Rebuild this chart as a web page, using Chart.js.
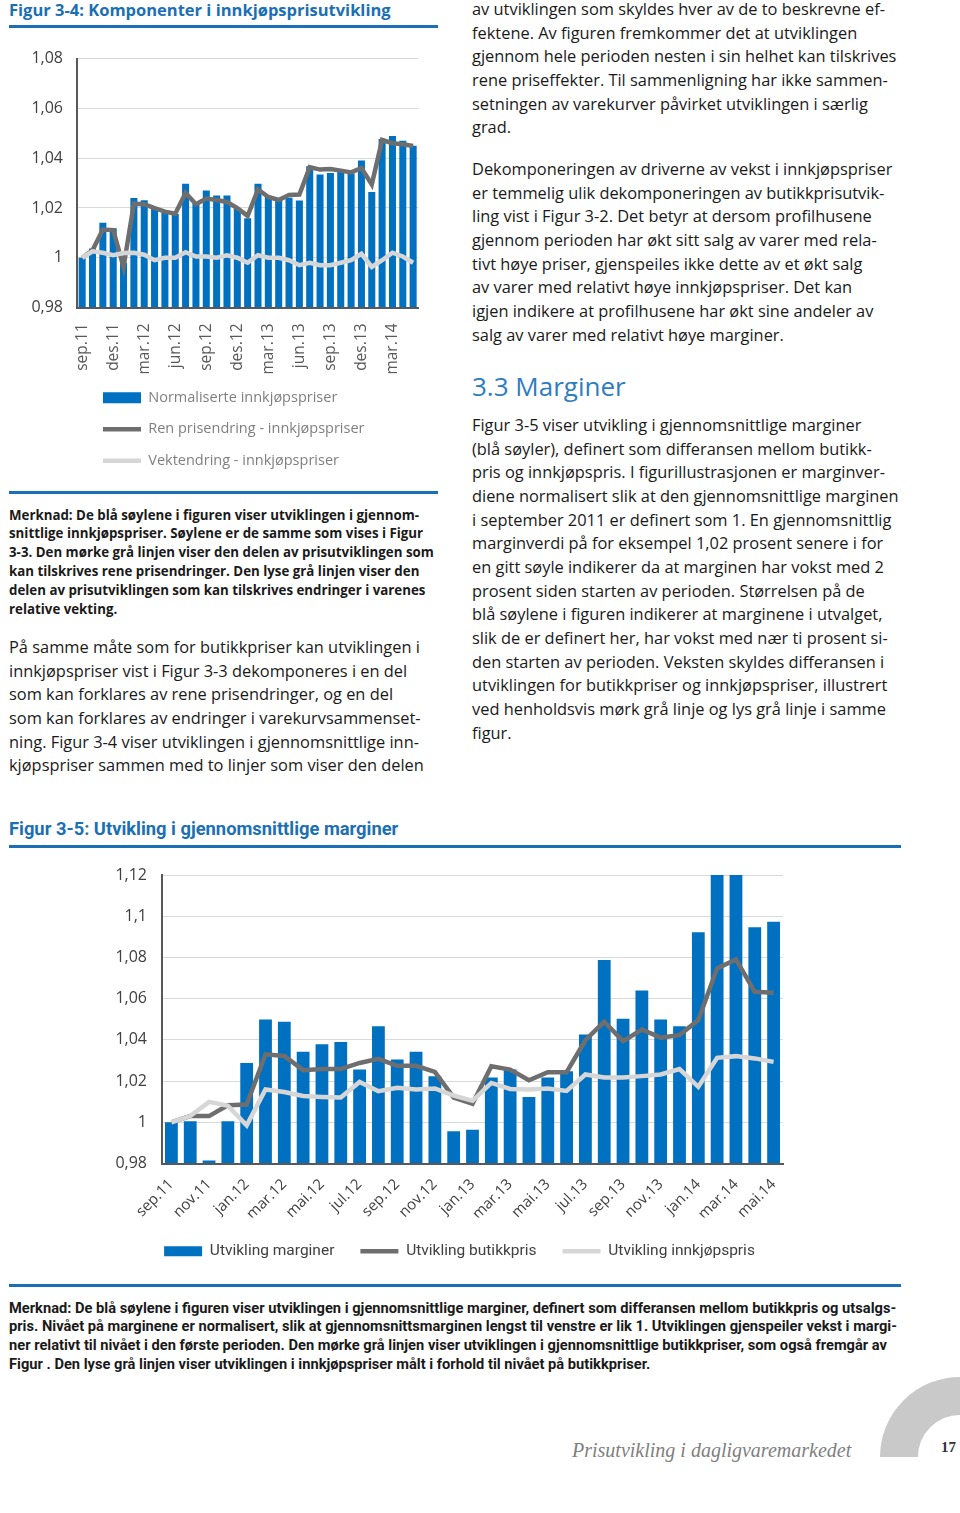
<!DOCTYPE html>
<html lang="no">
<head>
<meta charset="UTF-8">
<title>Prisutvikling i dagligvaremarkedet - side 17</title>
<script src="https://cdn.jsdelivr.net/npm/chart.js"></script>
<style>
  html, body { margin: 0; padding: 0; background: #fff; }
  #side { position: relative; width: 960px; height: 1513px; overflow: hidden; font-family: 'Open Sans', 'Lato', sans-serif; color: #1a1a1a; }
  .tittel { position: absolute; font-weight: bold; color: #1b6fb5; white-space: nowrap; }
  .smal { font-family: Roboto, 'Liberation Sans', sans-serif; transform-origin: 0 0; }
  .strek { position: absolute; height: 3px; background: #1b6fb5; }
  .tekst { position: absolute; font-size: 16.4px; }
  .tekst div { height: 23.65px; line-height: 23.65px; white-space: nowrap; }
  .merknad { position: absolute; font-weight: bold; font-size: 13.3px; }
  .merknad div { height: 18.8px; line-height: 18.8px; white-space: nowrap; }
  .figur { position: absolute; }
  #overskrift { position: absolute; left: 472px; top: 371px; font-size: 26px; line-height: 30px; color: #2d7dc2; }
  #bunntekst { position: absolute; left: 572px; top: 1439px; font-family: 'Liberation Serif', serif; font-style: italic; font-size: 20px; color: #808080; white-space: nowrap; }
  #sidetall { position: absolute; left: 941px; top: 1439px; font-family: 'Liberation Serif', serif; font-weight: bold; font-size: 15px; color: #333; }
  #bue { position: absolute; left: 880px; top: 1377px; width: 80px; height: 80px; overflow: hidden; }
  #bue div { width: 160px; height: 160px; border-radius: 50%; border: 38px solid #c9c9c9; box-sizing: border-box; }
</style>
</head>
<body>
<div id="side">

  <!-- venstre spalte -->
  <div class="tittel" style="left:9px; top:0; font-size:16.5px; line-height:20px;">Figur 3-4: Komponenter i innkjøpsprisutvikling</div>
  <div class="strek" style="left:9px; top:25px; width:429px;"></div>
  <div class="figur" style="left:20px; top:35px; width:420px; height:443px;"><canvas id="figur34"></canvas></div>
  <div class="strek" style="left:9px; top:491px; width:429px;"></div>

  <div class="merknad" style="left:9px; top:505.6px;">
    <div>Merknad: De blå søylene i figuren viser utviklingen i gjennom-</div>
    <div>snittlige innkjøpspriser. Søylene er de samme som vises i Figur</div>
    <div>3-3. Den mørke grå linjen viser den delen av prisutviklingen som</div>
    <div>kan tilskrives rene prisendringer. Den lyse grå linjen viser den</div>
    <div>delen av prisutviklingen som kan tilskrives endringer i varenes</div>
    <div>relative vekting.</div>
  </div>

  <div class="tekst" style="left:9px; top:635.2px;">
    <div>På samme måte som for butikkpriser kan utviklingen i</div>
    <div>innkjøpspriser vist i Figur 3-3 dekomponeres i en del</div>
    <div>som kan forklares av rene prisendringer, og en del</div>
    <div>som kan forklares av endringer i varekurvsammenset-</div>
    <div>ning. Figur 3-4 viser utviklingen i gjennomsnittlige inn-</div>
    <div>kjøpspriser sammen med to linjer som viser den delen</div>
  </div>

  <!-- høyre spalte -->
  <div class="tekst" style="left:472px; top:-2.8px;">
    <div>av utviklingen som skyldes hver av de to beskrevne ef-</div>
    <div>fektene. Av figuren fremkommer det at utviklingen</div>
    <div>gjennom hele perioden nesten i sin helhet kan tilskrives</div>
    <div>rene priseffekter. Til sammenligning har ikke sammen-</div>
    <div>setningen av varekurver påvirket utviklingen i særlig</div>
    <div>grad.</div>
  </div>

  <div class="tekst" style="left:472px; top:157.2px;">
    <div>Dekomponeringen av driverne av vekst i innkjøpspriser</div>
    <div>er temmelig ulik dekomponeringen av butikkprisutvik-</div>
    <div>ling vist i Figur 3-2. Det betyr at dersom profilhusene</div>
    <div>gjennom perioden har økt sitt salg av varer med rela-</div>
    <div>tivt høye priser, gjenspeiles ikke dette av et økt salg</div>
    <div>av varer med relativt høye innkjøpspriser. Det kan</div>
    <div>igjen indikere at profilhusene har økt sine andeler av</div>
    <div>salg av varer med relativt høye marginer.</div>
  </div>

  <div id="overskrift">3.3 Marginer</div>

  <div class="tekst" style="left:472px; top:413.2px;">
    <div>Figur 3-5 viser utvikling i gjennomsnittlige marginer</div>
    <div>(blå søyler), definert som differansen mellom butikk-</div>
    <div>pris og innkjøpspris. I figurillustrasjonen er marginver-</div>
    <div>diene normalisert slik at den gjennomsnittlige marginen</div>
    <div>i september 2011 er definert som 1. En gjennomsnittlig</div>
    <div>marginverdi på for eksempel 1,02 prosent senere i for</div>
    <div>en gitt søyle indikerer da at marginen har vokst med 2</div>
    <div>prosent siden starten av perioden. Størrelsen på de</div>
    <div>blå søylene i figuren indikerer at marginene i utvalget,</div>
    <div>slik de er definert her, har vokst med nær ti prosent si-</div>
    <div>den starten av perioden. Veksten skyldes differansen i</div>
    <div>utviklingen for butikkpriser og innkjøpspriser, illustrert</div>
    <div>ved henholdsvis mørk grå linje og lys grå linje i samme</div>
    <div>figur.</div>
  </div>

  <!-- figur 3-5 over hele bredden -->
  <div class="tittel smal" data-bredde="389" style="left:9px; top:818px; font-size:18px; line-height:22px;">Figur 3-5: Utvikling i gjennomsnittlige marginer</div>
  <div class="strek" style="left:9px; top:845px; width:892px;"></div>
  <div class="figur" style="left:100px; top:850px; width:748px; height:419px;"><canvas id="figur35"></canvas></div>
  <div class="strek" style="left:9px; top:1284px; width:892px;"></div>

  <div class="merknad smal" data-bredde="888" style="left:9px; top:1298.7px; font-size:14px;">
    <div>Merknad: De blå søylene i figuren viser utviklingen i gjennomsnittlige marginer, definert som differansen mellom butikkpris og utsalgs-</div>
    <div>pris. Nivået på marginene er normalisert, slik at gjennomsnittsmarginen lengst til venstre er lik 1. Utviklingen gjenspeiler vekst i margi-</div>
    <div>ner relativt til nivået i den første perioden. Den mørke grå linjen viser utviklingen i gjennomsnittlige butikkpriser, som også fremgår av</div>
    <div>Figur . Den lyse grå linjen viser utviklingen i innkjøpspriser målt i forhold til nivået på butikkpriser.</div>
  </div>

  <div id="bue"><div></div></div>
  <div id="bunntekst">Prisutvikling i dagligvaremarkedet</div>
  <div id="sidetall">17</div>
</div>

<script>
  // måneder sep.11 - mai.14
  const maaneder = ['sep.11', 'okt.11', 'nov.11', 'des.11',
    'jan.12', 'feb.12', 'mar.12', 'apr.12', 'mai.12', 'jun.12', 'jul.12', 'aug.12', 'sep.12', 'okt.12', 'nov.12', 'des.12',
    'jan.13', 'feb.13', 'mar.13', 'apr.13', 'mai.13', 'jun.13', 'jul.13', 'aug.13', 'sep.13', 'okt.13', 'nov.13', 'des.13',
    'jan.14', 'feb.14', 'mar.14', 'apr.14', 'mai.14'];

  // Figur 3-4
  const normaliserteInnkjop = [1.000, 1.0037, 1.0141, 1.0118, 0.998, 1.0240, 1.0231, 1.0199, 1.0182, 1.0176, 1.0297,
    1.0218, 1.027, 1.025, 1.025, 1.020, 1.0159, 1.0297, 1.0248, 1.0232, 1.0241, 1.0230,
    1.0367, 1.0334, 1.0340, 1.0351, 1.0338, 1.0391, 1.0264, 1.0477, 1.0489, 1.0470, 1.0450];
  const renPrisendring = [1.000, 1.003, 1.0113, 1.0111, 0.9963, 1.0217, 1.0215, 1.0199, 1.0185, 1.0177, 1.026,
    1.0215, 1.0238, 1.0232, 1.0224, 1.0199, 1.0168, 1.0274, 1.0244, 1.0232, 1.0252, 1.0254,
    1.0364, 1.0354, 1.0356, 1.035, 1.0343, 1.036, 1.0294, 1.0473, 1.046, 1.0456, 1.0449];
  const vektendring = [1.000, 1.0026, 1.002, 1.001, 1.0019, 1.002, 1.0012, 0.999, 1.000, 1.000, 1.0022,
    1.0005, 1.0005, 1.000, 1.001, 1.000, 0.998, 1.001, 1.000, 1.000, 0.999, 0.997,
    0.998, 0.997, 0.997, 0.998, 0.999, 1.0016, 0.9963, 0.999, 1.002, 1.0005, 0.998];
  const y34Ticks = [0.98, 1.08, 0.02]; // min, maks, steg

  // Figur 3-5
  const marginer = [1.000, 1.0005, 0.9815, 1.0005, 1.0288, 1.0499, 1.0488, 1.0342, 1.0379, 1.0390, 1.0256,
    1.0466, 1.0305, 1.0342, 1.0224, 0.9956, 0.9964, 1.0217, 1.0256, 1.0123, 1.0217, 1.0248,
    1.0426, 1.0787, 1.0502, 1.0640, 1.0499, 1.0466, 1.0922, 1.12, 1.12, 1.0946, 1.0973];
  const butikkpris = [1.000, 1.003, 1.003, 1.0083, 1.0086, 1.0330, 1.0322, 1.0253, 1.0258, 1.0258, 1.0288,
    1.0308, 1.0274, 1.0274, 1.0245, 1.012, 1.009, 1.0272, 1.0256, 1.0204, 1.0243, 1.0243,
    1.0398, 1.0488, 1.0394, 1.0450, 1.0411, 1.0423, 1.0496, 1.0747, 1.0790, 1.0633, 1.0629];
  const innkjopspris = [1.000, 1.003, 1.0099, 1.008, 0.9985, 1.0159, 1.0147, 1.0128, 1.0123, 1.012, 1.0196,
    1.0151, 1.0168, 1.0159, 1.0164, 1.013, 1.0104, 1.0191, 1.0162, 1.0159, 1.0164, 1.0152,
    1.0232, 1.0217, 1.0217, 1.0224, 1.0232, 1.0258, 1.0172, 1.0313, 1.0321, 1.031, 1.0293];
  const y35Ticks = [0.98, 1.12, 0.02];

  const BLAA = '#0070c0';
  const MORK = '#6e6e6e';
  const LYS = '#d6d6d6';
  const AKSE = '#595959';

  Chart.defaults.font.family = "'Open Sans', Lato, sans-serif";

  // smal skrift finnes ikke lokalt: klem teksten sammen til riktig bredde
  document.querySelectorAll('[data-bredde]').forEach(el => {
    const k = Number(el.dataset.bredde) / el.offsetWidth;
    el.style.transform = 'scaleX(' + k.toFixed(3) + ')';
  });

  // 1,02 i stedet for 1.02, og 1 / 1,1 uten ekstra nuller
  function tall(v) {
    return String(Math.round(v * 100) / 100).replace('.', ',');
  }

  // søyle = rektangel, linje = strek i forklaringen
  function forklaring(chart) {
    return Chart.defaults.plugins.legend.labels.generateLabels(chart).map(item => {
      const ds = chart.data.datasets[item.datasetIndex];
      const linje = ds.type === 'line';
      item.pointStyle = linje ? 'line' : 'rect';
      item.fillStyle = linje ? ds.borderColor : ds.backgroundColor;
      item.strokeStyle = linje ? ds.borderColor : ds.backgroundColor;
      item.lineWidth = linje ? ds.borderWidth : 0;
      return item;
    });
  }

  // skyv forklaringen sidelengs
  const flyttForklaring = {
    id: 'flyttForklaring',
    afterLayout(chart, args, opts) {
      if (!opts.dx) return;
      chart.legend.left += opts.dx;
      chart.legend.right += opts.dx;
    }
  };

  function datasett(navn, verdier, ymin) {
    return [
      { type: 'bar', label: navn[0], data: verdier[0], backgroundColor: BLAA, base: ymin,
        barPercentage: 0.68, categoryPercentage: 1, order: 3 },
      { type: 'line', label: navn[1], data: verdier[1], borderColor: MORK, backgroundColor: MORK,
        borderWidth: 4.5, pointRadius: 0, tension: 0, order: 2 },
      { type: 'line', label: navn[2], data: verdier[2], borderColor: LYS, backgroundColor: LYS,
        borderWidth: 4.5, pointRadius: 0, tension: 0, order: 1 }
    ];
  }

  new Chart(document.getElementById('figur34'), {
    type: 'bar',
    data: {
      labels: maaneder,
      datasets: datasett(
        ['Normaliserte innkjøpspriser', 'Ren prisendring - innkjøpspriser', 'Vektendring - innkjøpspriser'],
        [normaliserteInnkjop, renPrisendring, vektendring], y34Ticks[0])
    },
    plugins: [flyttForklaring],
    options: {
      responsive: true,
      maintainAspectRatio: false,
      animation: false,
      layout: { padding: { top: 21, right: 17, left: 0, bottom: 0 } },
      plugins: {
        flyttForklaring: { dx: 9 },
        legend: {
          position: 'bottom',
          align: 'start',
          fullSize: false,
          labels: {
            usePointStyle: true, pointStyleWidth: 38, boxHeight: 11, padding: 17,
            color: '#7f7f7f', font: { size: 14.5 },
            sort: (a, b) => a.datasetIndex - b.datasetIndex,
            generateLabels: forklaring
          }
        },
        tooltip: { enabled: false }
      },
      scales: {
        x: {
          grid: { display: false },
          border: { color: AKSE, width: 2 },
          ticks: {
            autoSkip: false, minRotation: 90, maxRotation: 90, padding: 8,
            color: AKSE, font: { size: 15.5 },
            callback: (v, i) => (i % 3 === 0 ? maaneder[i] : '')
          },
          afterFit: s => { s.height = 66; }
        },
        y: {
          min: y34Ticks[0], max: y34Ticks[1],
          border: { color: AKSE, width: 2 },
          grid: { color: '#d9d9d9', drawTicks: false },
          ticks: { stepSize: y34Ticks[2], padding: 14, color: '#404040', font: { size: 16 }, callback: tall },
          afterFit: s => { s.width = 57; }
        }
      }
    }
  });

  new Chart(document.getElementById('figur35'), {
    type: 'bar',
    data: {
      labels: maaneder,
      datasets: datasett(
        ['Utvikling marginer', 'Utvikling butikkpris', 'Utvikling innkjøpspris'],
        [marginer, butikkpris, innkjopspris], y35Ticks[0])
    },
    plugins: [flyttForklaring],
    options: {
      responsive: true,
      maintainAspectRatio: false,
      animation: false,
      layout: { padding: { top: 25, right: 65, left: 0, bottom: 0 } },
      plugins: {
        flyttForklaring: { dx: 18 },
        legend: {
          position: 'bottom',
          labels: {
            usePointStyle: true, pointStyleWidth: 38, boxHeight: 10, padding: 26,
            color: '#404040', font: { size: 15.5, family: "Roboto, 'Liberation Sans', sans-serif" },
            sort: (a, b) => a.datasetIndex - b.datasetIndex,
            generateLabels: forklaring
          }
        },
        tooltip: { enabled: false }
      },
      scales: {
        x: {
          grid: { display: false },
          border: { color: AKSE, width: 2 },
          ticks: {
            autoSkip: false, minRotation: 45, maxRotation: 45, padding: 4,
            color: '#404040', font: { size: 15 },
            callback: (v, i) => (i % 2 === 0 ? maaneder[i] : '')
          },
          afterFit: s => { s.height = 54; }
        },
        y: {
          min: y35Ticks[0], max: y35Ticks[1],
          border: { color: AKSE, width: 2 },
          grid: { color: '#d9d9d9', drawTicks: false },
          ticks: { stepSize: y35Ticks[2], padding: 15, color: '#404040', font: { size: 16 }, callback: tall },
          afterFit: s => { s.width = 62; }
        }
      }
    }
  });
</script>
</body>
</html>
